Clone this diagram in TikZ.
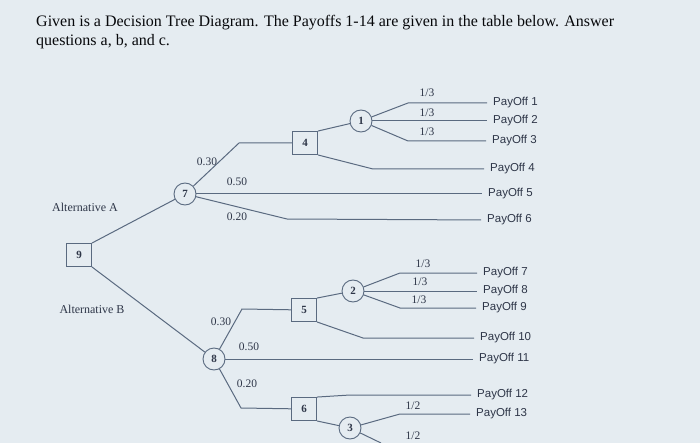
\documentclass[tikz,border=0pt]{standalone}
\usepackage{fontspec}
\setmainfont{Liberation Serif}
\newfontfamily\payfont{Liberation Sans}
\definecolor{bg}{HTML}{E5ECF1}
\definecolor{edge}{HTML}{5A6A80}
\definecolor{ink}{HTML}{2E3648}
\tikzset{
  decision/.style={draw=edge, line width=0.9pt, fill=bg, minimum width=25pt, minimum height=23pt, inner sep=0pt, text=ink, font=\fontsize{11}{11}\selectfont\bfseries},
  chance/.style={draw=edge, line width=0.9pt, fill=bg, circle, minimum size=22pt, inner sep=0pt, text=ink, font=\fontsize{11}{11}\selectfont\bfseries},
  prob/.style={inner sep=0pt, text=ink, font=\fontsize{11.5}{12}\selectfont},
  payoff/.style={anchor=west, inner sep=0pt, text=ink, font=\payfont\fontsize{11.5}{12}\selectfont},
  alt/.style={inner sep=0pt, text=ink, font=\fontsize{12}{12}\selectfont},
  title/.style={anchor=base west, inner sep=0pt, text=black!85!ink, font=\fontsize{16}{19}\selectfont},
  branch/.style={draw=edge, line width=1pt},
  toend/.style={branch, shorten >=6pt}
}
\begin{document}
\begin{tikzpicture}[x=1pt,y=-1pt]
  \fill[bg] (0,0) rectangle (700,443);
  \useasboundingbox (0,0) rectangle (700,443);

  \node[title] (title1) at (36,27) {Given is a Decision Tree Diagram. The Payoffs 1-14 are given in the table below. Answer};
  \node[title] (title2) at (36,46) {questions a, b, and c.};

  \node[decision] (n9) at (79,255) {9};
  \node[chance] (n7) at (185,194) {7};
  \node[decision] (n4) at (305,143) {4};
  \node[chance] (n1) at (361,121) {1};
  \node[chance] (n8) at (214,359) {8};
  \node[decision] (n5) at (304,310) {5};
  \node[chance] (n2) at (353,291) {2};
  \node[decision] (n6) at (304,409) {6};
  \node[chance] (n3) at (350,428) {3};

  \node[payoff] (p1) at (493,103) {PayOff 1};
  \node[payoff] (p2) at (493,121) {PayOff 2};
  \node[payoff] (p3) at (492,141) {PayOff 3};
  \node[payoff] (p4) at (490,169) {PayOff 4};
  \node[payoff] (p5) at (488,194) {PayOff 5};
  \node[payoff] (p6) at (487,220) {PayOff 6};
  \node[payoff] (p7) at (483,273) {PayOff 7};
  \node[payoff] (p8) at (483,291) {PayOff 8};
  \node[payoff] (p9) at (482,308) {PayOff 9};
  \node[payoff] (p10) at (480,338) {PayOff 10};
  \node[payoff] (p11) at (479,359) {PayOff 11};
  \node[payoff] (p12) at (477,395) {PayOff 12};
  \node[payoff] (p13) at (476,414) {PayOff 13};

  \coordinate (b7a) at (239,143);
  \coordinate (b7c) at (287,219);
  \coordinate (b4) at (373,169);
  \coordinate (b1a) at (408,103);
  \coordinate (b1c) at (408,141);
  \coordinate (b8a) at (242,309);
  \coordinate (b8c) at (241,408);
  \coordinate (b5) at (363,338);
  \coordinate (b2a) at (400,273);
  \coordinate (b2c) at (400,308);
  \coordinate (b6) at (350,395);
  \coordinate (b3a) at (400,414);
  \coordinate (e3) at (381,443);

  \draw[branch] (n9.north east) -- (n7);
  \draw[branch] (n9.south east) -- (n8);
  \draw[branch] (n7) -- (b7a) -- (n4);
  \draw[toend] (n7) -- (p5.west);
  \draw[toend] (n7) -- (b7c) -- (p6.west);
  \draw[branch] (n4.north east) -- (n1);
  \draw[toend] (n4.south east) -- (b4) -- (p4.west);
  \draw[toend] (n1) -- (b1a) -- (p1.west);
  \draw[toend] (n1) -- (p2.west);
  \draw[toend] (n1) -- (b1c) -- (p3.west);
  \draw[branch] (n8) -- (b8a) -- (n5);
  \draw[toend] (n8) -- (p11.west);
  \draw[branch] (n8) -- (b8c) -- (n6);
  \draw[branch] (n5.north east) -- (n2);
  \draw[toend] (n5.south east) -- (b5) -- (p10.west);
  \draw[toend] (n2) -- (b2a) -- (p7.west);
  \draw[toend] (n2) -- (p8.west);
  \draw[toend] (n2) -- (b2c) -- (p9.west);
  \draw[toend] (n6.north east) -- (b6) -- (p12.west);
  \draw[branch] (n6.south east) -- (n3);
  \draw[toend] (n3) -- (b3a) -- (p13.west);
  \draw[branch] (n3) -- (e3);

  \node[alt] (altA) at (85,207) {Alternative A};
  \node[alt] (altB) at (92,309) {Alternative B};

  \node[prob] (q7a) at (207,162) {0.30};
  \node[prob] (q7b) at (237,182) {0.50};
  \node[prob] (q7c) at (237,217) {0.20};
  \node[prob] (q8a) at (221,322) {0.30};
  \node[prob] (q8b) at (249,347) {0.50};
  \node[prob] (q8c) at (247,384) {0.20};
  \node[prob] (q1a) at (427,93) {1/3};
  \node[prob] (q1b) at (427,113) {1/3};
  \node[prob] (q1c) at (427,132) {1/3};
  \node[prob] (q2a) at (423,264) {1/3};
  \node[prob] (q2b) at (420,282) {1/3};
  \node[prob] (q2c) at (419,300) {1/3};
  \node[prob] (q3a) at (413,406) {1/2};
  \node[prob] (q3b) at (413,436) {1/2};
\end{tikzpicture}
\end{document}
